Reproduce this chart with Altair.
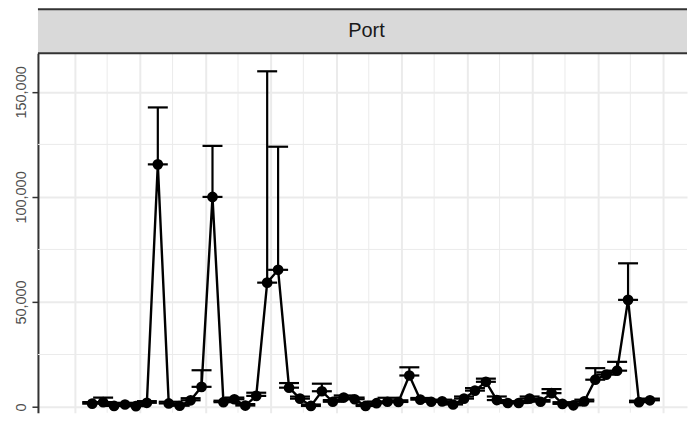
import altair as alt
import pandas as pd

# ---- data ----
idx = list(range(52))
values = [1600, 2300, 500, 1200, 400, 2000, 115500, 1700, 600, 3200,
          9600, 100000, 2300, 3700, 700, 5300, 59200, 65300, 9200, 4000,
          500, 7500, 2500, 4500, 3700, 500, 1800, 2500, 2400, 15000,
          3500, 2500, 2700, 1200, 4000, 7800, 12000, 3300, 1900, 1900,
          4000, 2500, 6600, 1500, 800, 2700, 13000, 15400, 17300, 51000,
          2300, 3200]
uppers = [2300, 4500, 1200, 2000, 1000, 2800, 142600, 2500, 1300, 4200,
          17500, 124300, 3000, 4500, 1400, 6800, 159800, 123900, 11400, 5000,
          1200, 11100, 3300, 5500, 4500, 1200, 2600, 4400, 3200, 18900,
          4300, 3300, 3500, 2000, 5000, 9000, 13500, 5000, 2700, 2700,
          5000, 3300, 8500, 2300, 1500, 3500, 18500, 16500, 21500, 68400,
          3000, 4000]
x_major = [-1.62, 4.36, 10.34, 16.32, 22.30, 28.28, 34.26, 40.24, 46.22, 52.20]
x_minor = [1.37, 7.35, 13.33, 19.31, 25.29, 31.27, 37.25, 43.23, 49.21]
y_major = [0, 50000, 100000, 150000]
y_minor = [25000, 75000, 125000]
strip_label = "Port"

W, H = 650, 360
STRIP = 44

df = pd.DataFrame({"i": idx, "v": values, "u": uppers})
xmin_df = pd.DataFrame({"x": x_minor})
ymin_df = pd.DataFrame({"y": y_minor})
one = pd.DataFrame({"a": [0]})

xs = alt.Scale(domain=[-4.96, 54.39], nice=False, zero=False)
ys = alt.Scale(domain=[-2710, 168400], nice=False, zero=False)

xaxis = alt.Axis(values=x_major, labels=False, ticks=False, domain=False, title=None,
                 grid=True)
yaxis = alt.Axis(values=y_major, title=None, grid=True,
                 labelExpr="format(datum.value, ',')")

X = lambda f: alt.X(f, scale=xs, axis=xaxis)
Y = lambda f: alt.Y(f, scale=ys, axis=yaxis)

base = alt.Chart(df)

minor_x = alt.Chart(xmin_df).mark_rule(color="#EBEBEB", strokeWidth=1).encode(x=X("x:Q"))
minor_y = alt.Chart(ymin_df).mark_rule(color="#EBEBEB", strokeWidth=1).encode(y=Y("y:Q"))

err = base.mark_rule(color="black", strokeWidth=2.2).encode(x=X("i:Q"), y=Y("v:Q"), y2="u:Q")
cap_top = base.mark_tick(orient="horizontal", size=20, thickness=2.2, color="black",
                         opacity=1).encode(x=X("i:Q"), y=Y("u:Q"))
cap_bot = base.mark_tick(orient="horizontal", size=20, thickness=2.2, color="black",
                         opacity=1).encode(x=X("i:Q"), y=Y("v:Q"))
line = base.mark_line(color="black", strokeWidth=2.4).encode(x=X("i:Q"), y=Y("v:Q"))
pts = base.mark_circle(size=115, color="black", opacity=1).encode(x=X("i:Q"), y=Y("v:Q"))

strip_bg = alt.Chart(one).mark_rect(fill="#D9D9D9").encode(
    x=alt.value(0), x2=alt.value(W), y=alt.value(-STRIP), y2=alt.value(0))
strip_top = alt.Chart(one).mark_rule(color="#333333", strokeWidth=2).encode(
    x=alt.value(0), x2=alt.value(W), y=alt.value(-STRIP))
strip_bot = alt.Chart(one).mark_rule(color="#333333", strokeWidth=2).encode(
    x=alt.value(0), x2=alt.value(W), y=alt.value(0))
strip_txt = alt.Chart(one).mark_text(text=strip_label, fontSize=20, color="#1A1A1A").encode(
    x=alt.value(329), y=alt.value(-STRIP / 2))

chart = alt.layer(minor_x, minor_y, err, cap_top, cap_bot, line, pts,
                  strip_bg, strip_top, strip_bot, strip_txt).properties(
    width=W, height=H, padding=0
).configure(
    font="Liberation Sans"
).configure_view(
    strokeWidth=0
).configure_axisX(
    gridColor="#EBEBEB", gridWidth=2, minExtent=0, maxExtent=0
).configure_axisY(
    gridColor="#EBEBEB", gridWidth=2, labelAngle=270, labelAlign="center",
    labelBaseline="bottom", labelFontSize=14.5, labelColor="#4D4D4D", labelPadding=3,
    tickColor="#333333", tickWidth=1.5, tickSize=6,
    domainColor="#333333", domainWidth=2, minExtent=30, maxExtent=30
)

chart.save("out.html", embed_options={"renderer": "svg", "actions": False})
